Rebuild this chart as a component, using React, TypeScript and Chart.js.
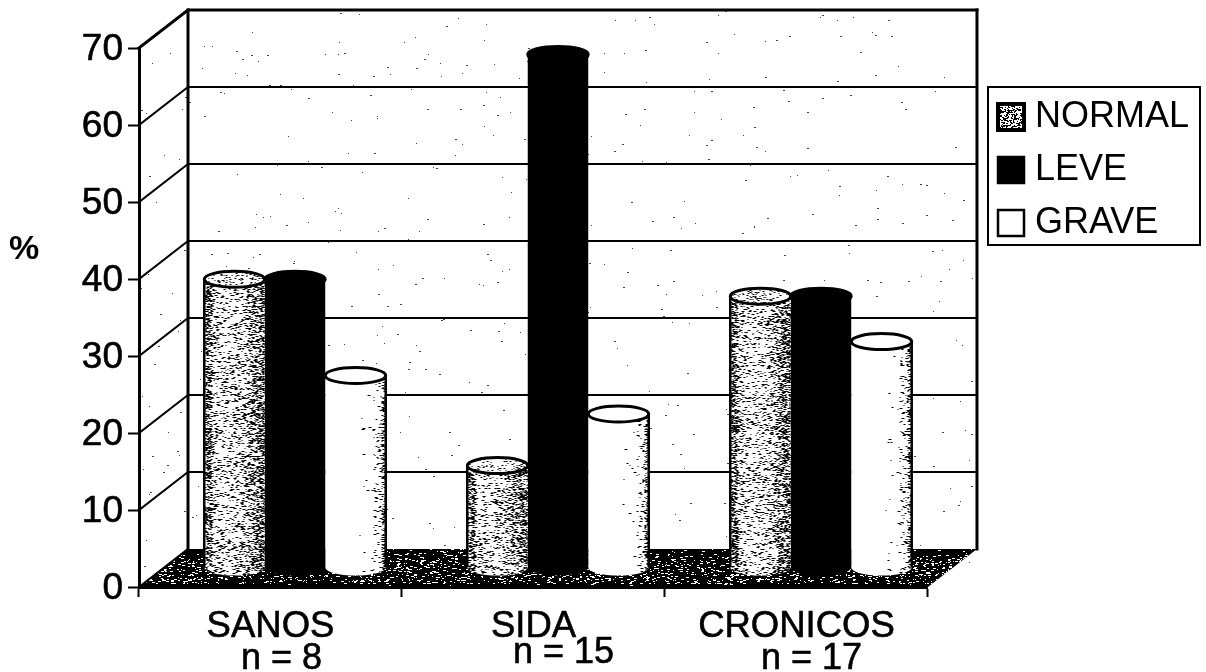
import React, { useEffect, useRef } from "react";
import { Chart, registerables } from "chart.js";

Chart.register(...registerables);

const categories = ["SANOS", "SIDA", "CRONICOS"];
const sampleLabels = ["n = 8", "n = 15", "n = 17"];
const seriesNames = ["NORMAL", "LEVE", "GRAVE"];
const normalValues = [37.5, 13.3, 35.3];
const leveValues = [37.5, 66.7, 35.3];
const graveValues = [25, 20, 29.4];
const axisUnit = "%";

const FONT = '"Liberation Sans", Arial, sans-serif';
const DX = 49;
const DY = 38;
const FRONT_LEFT = 139;
const FRONT_TOP = 48;
const FRONT_BOTTOM = 587;
const SAMPLE_SHIFT = [11, 30, 15];
const SAMPLE_Y = [659, 653, 659];

function hash(a: number, b: number, s: number) {
  let h = (a * 374761393 + b * 668265263 + s * 2147483647) | 0;
  h = Math.imul(h ^ (h >>> 13), 1274126177);
  h = h ^ (h >>> 16);
  return (h >>> 0) / 4294967296;
}

function speckle(
  ctx: CanvasRenderingContext2D,
  x: number,
  y: number,
  w: number,
  h: number,
  density: (u: number, v: number) => number,
  color: string,
  seed: number,
  maxLen = 3
) {
  ctx.fillStyle = color;
  for (let j = 0; j < h; j += 1) {
    for (let i = 0; i < w; i += 1) {
      if (hash(i, j, seed) < density(i / w, j / h)) {
        const len = 1 + Math.floor(hash(j, i, seed + 7) * maxLen);
        ctx.fillRect(Math.round(x + i), Math.round(y + j), len, 1);
      }
    }
  }
}

const normalDensity = (u: number) => {
  if (u < 0.1) return 0.34;
  if (u > 0.7) return 0.18 + (u - 0.7) * 0.7;
  return 0.08 + Math.abs(u - 0.35) * 0.2;
};
const graveDensity = (u: number) => {
  if (u > 0.92) return 0.3;
  if (u > 0.78) return 0.07;
  if (u > 0.55) return 0.008;
  return 0;
};

const cylinderPlugin = {
  id: "cylinder",
  beforeDraw(c: any) {
    const ctx = c.ctx as CanvasRenderingContext2D;
    const y = c.scales.y;
    const x = c.scales.x;
    const left = x.left;
    const right = x.right;
    const bottom = y.getPixelForValue(0);
    ctx.save();
    ctx.fillStyle = "#fff";
    ctx.fillRect(0, 0, c.width, c.height);

    // wall speckles
    speckle(
      ctx,
      left,
      y.top - DY,
      right - left + DX,
      bottom - y.top + DY,
      () => 0.0013,
      "#444",
      11,
      2
    );

    // floor
    ctx.beginPath();
    ctx.moveTo(left, bottom);
    ctx.lineTo(left + DX, bottom - DY);
    ctx.lineTo(right + DX, bottom - DY);
    ctx.lineTo(right, bottom);
    ctx.closePath();
    ctx.fillStyle = "#000";
    ctx.fill();
    ctx.save();
    ctx.clip();
    speckle(
      ctx,
      left,
      bottom - DY,
      right - left + DX,
      DY,
      (_u, v) => (v < 0.12 ? 0.02 : v > 0.9 ? 0.008 : 0.08),
      "#fff",
      23,
      3
    );
    ctx.restore();

    // walls and grid
    ctx.strokeStyle = "#000";
    ctx.lineCap = "square";
    y.ticks.forEach((t: any) => {
      const py = y.getPixelForValue(t.value);
      ctx.lineWidth = t.value === 70 ? 3 : 2;
      ctx.beginPath();
      ctx.moveTo(left, py);
      ctx.lineTo(left + DX, py - DY);
      if (t.value !== 0) ctx.lineTo(right + DX, py - DY);
      ctx.stroke();
    });
    ctx.lineWidth = 3;
    ctx.beginPath();
    ctx.moveTo(left + DX, y.top - DY);
    ctx.lineTo(left + DX, bottom - DY);
    ctx.moveTo(right + DX, y.top - DY);
    ctx.lineTo(right + DX, bottom - DY);
    ctx.stroke();
    ctx.restore();
  },
  beforeDatasetDraw(c: any, args: any) {
    const ctx = c.ctx as CanvasRenderingContext2D;
    ctx.save();
    ctx.translate(DX / 2, -DY / 2);
    const idx = args.index;
    args.meta.data.forEach((bar: any) => {
      const p = bar.getProps(["x", "base", "width"], true);
      ctx.beginPath();
      ctx.ellipse(p.x, p.base, p.width / 2, 8, 0, 0, Math.PI * 2);
      ctx.fillStyle = idx === 1 ? "#000" : "#fff";
      ctx.fill();
    });
  },
  afterDatasetDraw(c: any, args: any) {
    const ctx = c.ctx as CanvasRenderingContext2D;
    const idx = args.index;
    args.meta.data.forEach((bar: any, n: number) => {
      const p = bar.getProps(["x", "y", "base", "width"], true);
      const l = p.x - p.width / 2;
      const rx = p.width / 2;
      const ry = 8;
      if (idx !== 1) {
        const density = idx === 0 ? normalDensity : graveDensity;
        ctx.save();
        ctx.beginPath();
        ctx.moveTo(l, p.y);
        ctx.lineTo(l + p.width, p.y);
        ctx.lineTo(l + p.width, p.base);
        ctx.ellipse(p.x, p.base, rx, ry, 0, 0, Math.PI);
        ctx.closePath();
        ctx.clip();
        speckle(ctx, l, p.y, p.width, p.base - p.y + ry, (u) => density(u), "#000", 31 + idx * 10 + n, 3);
        ctx.restore();
        ctx.strokeStyle = "#000";
        ctx.lineWidth = 2.5;
        ctx.beginPath();
        if (idx === 0) {
          ctx.moveTo(l, p.y);
          ctx.lineTo(l, p.base);
        } else {
          ctx.moveTo(l + p.width, p.y);
          ctx.lineTo(l + p.width, p.base);
        }
        ctx.stroke();
      }
      // top cap
      ctx.beginPath();
      ctx.ellipse(p.x, p.y, rx, ry, 0, 0, Math.PI * 2);
      ctx.fillStyle = idx === 1 ? "#000" : "#fff";
      ctx.fill();
      ctx.lineWidth = 3;
      ctx.strokeStyle = "#000";
      ctx.stroke();
      if (idx === 0) {
        ctx.save();
        ctx.clip();
        speckle(ctx, l, p.y - ry, p.width, ry * 2, () => 0.12, "#000", 71 + n, 2);
        ctx.restore();
      }
    });
    ctx.restore();
  },
  afterLayout(c: any) {
    const l = c.legend;
    if (!l) return;
    l.left = 981;
    l.right = 1200;
    l.top = 82;
    l.bottom = 400;
  },
  afterDraw(c: any) {
    const ctx = c.ctx as CanvasRenderingContext2D;
    const l = c.legend;
    ctx.save();
    ctx.strokeStyle = "#000";
    ctx.lineWidth = 2;
    ctx.strokeRect(988, 87, 212, 158);
    l.legendHitBoxes.forEach((h: any, i: number) => {
      const size = 26;
      const sy = h.top + h.height / 2 - size / 2;
      ctx.fillStyle = i === 1 ? "#000" : "#fff";
      ctx.fillRect(h.left, sy, size, size);
      if (i === 0) speckle(ctx, h.left, sy, size, size, () => 0.32, "#000", 91, 2);
      ctx.lineWidth = i === 0 ? 4 : 2.5;
      ctx.strokeRect(h.left, sy, size, size);
    });
    ctx.fillStyle = "#000";
    ctx.strokeStyle = "#000";
    ctx.lineWidth = 0.6;
    ctx.textBaseline = "middle";
    ctx.textAlign = "center";
    ctx.font = `36px ${FONT}`;
    const xs = c.scales.x;
    sampleLabels.forEach((t, i) => {
      const px = xs.getPixelForTick(i) + SAMPLE_SHIFT[i];
      ctx.strokeText(t, px, SAMPLE_Y[i]);
      ctx.fillText(t, px, SAMPLE_Y[i]);
    });
    ctx.font = `bold 34px ${FONT}`;
    ctx.fillText(axisUnit, 24, 250);
    ctx.restore();
  },
};

export default function App() {
  const ref = useRef<HTMLCanvasElement>(null);
  useEffect(() => {
    if (!ref.current) return;
    const defaults: any = (Chart.defaults.plugins.legend.labels as any).generateLabels;
    const chart = new Chart(ref.current, {
      type: "bar",
      data: {
        labels: categories,
        datasets: [
          { label: seriesNames[0], data: normalValues, backgroundColor: "#fff" },
          { label: seriesNames[1], data: leveValues, backgroundColor: "#000" },
          { label: seriesNames[2], data: graveValues, backgroundColor: "#fff" },
        ].map((d) => ({ ...d, categoryPercentage: 0.69, barPercentage: 1, clip: false as any, borderWidth: 0 })),
      },
      plugins: [cylinderPlugin as any],
      options: {
        animation: false,
        responsive: false,
        layout: { padding: { top: FRONT_TOP, right: 60, left: 0, bottom: 0 } },
        plugins: {
          tooltip: { enabled: false },
          legend: {
            position: "right",
            align: "start",
            labels: {
              color: "#000",
              font: { size: 36, family: FONT },
              boxWidth: 19,
              boxHeight: 26,
              padding: 17,
              generateLabels(c: any) {
                return defaults(c).map((i: any) => ({
                  ...i,
                  fillStyle: "rgba(0,0,0,0)",
                  strokeStyle: "rgba(0,0,0,0)",
                  lineWidth: 0,
                }));
              },
            },
          },
        },
        scales: {
          x: {
            afterFit(s: any) {
              s.height = 672 - FRONT_BOTTOM;
            },
            border: { color: "#000", width: 3 },
            grid: { drawOnChartArea: false, drawTicks: true, tickColor: "#000", tickLength: 10, tickWidth: 2 },
            ticks: {
              color: "#000",
              font: { size: 36.5, family: FONT },
              padding: 8,
              maxRotation: 0,
              autoSkip: false,
              textStrokeColor: "#000",
              textStrokeWidth: 0.6,
            },
          },
          y: {
            min: 0,
            max: 70,
            afterFit(s: any) {
              s.width = FRONT_LEFT;
            },
            border: { color: "#000", width: 3 },
            grid: { drawOnChartArea: false, drawTicks: true, tickColor: "#000", tickLength: 11, tickWidth: 2 },
            ticks: {
              stepSize: 10,
              color: "#000",
              font: { size: 37, family: FONT },
              padding: 5,
              labelOffset: 2,
              textStrokeColor: "#000",
              textStrokeWidth: 0.6,
            },
          },
        },
      } as any,
    });
    return () => chart.destroy();
  }, []);
  return (
    <div style={{ position: "absolute", left: 0, top: 0, width: 1206, height: 672, overflow: "hidden", background: "#fff" }}>
      <canvas ref={ref} width={1206} height={672} style={{ display: "block" }} />
    </div>
  );
}
